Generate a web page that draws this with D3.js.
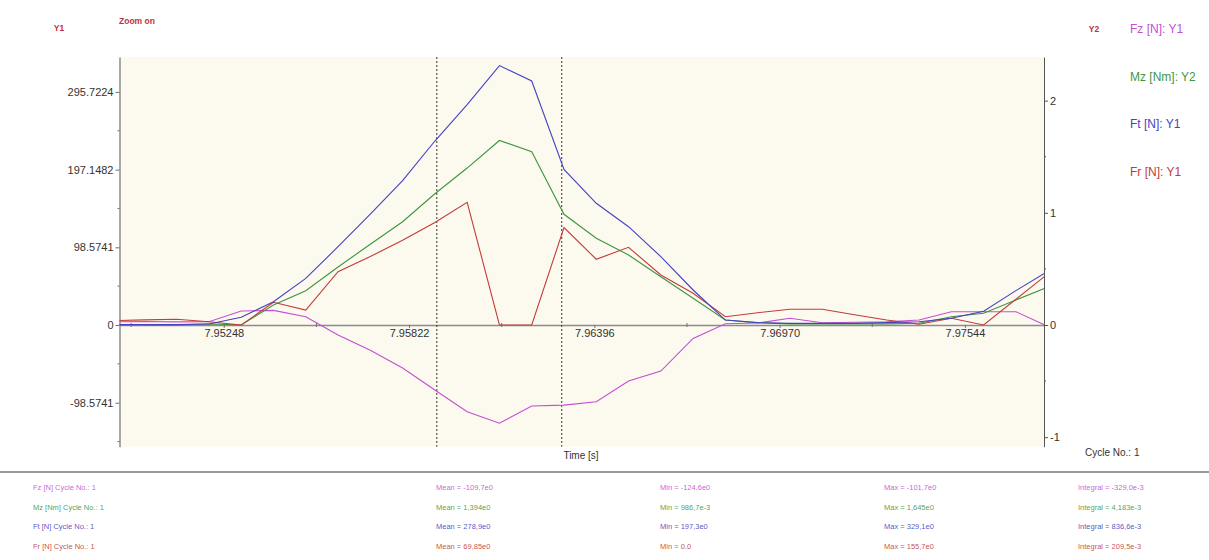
<!DOCTYPE html>
<html>
<head>
<meta charset="utf-8">
<script src="https://cdn.jsdelivr.net/npm/d3@7"></script>
<style>
  html, body { margin: 0; padding: 0; background: #ffffff; }
  svg { display: block; font-family: "Liberation Sans", Arial, sans-serif; }
</style>
</head>
<body>
<svg id="chart" width="1209" height="560"></svg>
<script>
// Sample times [s] (1 kHz acquisition)
const time = [7.94902, 7.95002, 7.95102, 7.95202, 7.95302, 7.95402, 7.95502, 7.95602, 7.95702, 7.95802,
              7.95902, 7.96002, 7.96102, 7.96202, 7.96302, 7.96402, 7.96502, 7.96602, 7.96702, 7.96802,
              7.96902, 7.97002, 7.97102, 7.97202, 7.97302, 7.97402, 7.97502, 7.97602, 7.97702, 7.97802];

// Channels on Y1 [N]
const fz = [4.0, 4.5, 4.0, 4.2, 17.8, 18.5, 10.5, -12.7, -32.0, -54.6,
            -82.5, -110.0, -124.6, -102.8, -101.7, -97.3, -71.0, -58.4, -17.0, 1.5,
            2.5, 8.5, 2.9, 3.5, 4.2, 6.3, 16.9, 16.9, 16.9, -2.0];
const ft = [0.5, 0.5, 0.5, 1.3, 9.8, 29.6, 59.2, 99.3, 140.8, 183.3,
            233.4, 279.6, 329.1, 309.6, 197.3, 154.4, 124.7, 86.7, 44.4, 6.3,
            3.0, 2.0, 2.0, 2.0, 3.0, 4.2, 8.5, 17.5, 43.6, 68.5];
const fr = [5.5, 6.5, 7.2, 4.2, 0.0, 28.8, 19.0, 67.6, 86.9, 107.5,
            130.0, 155.7, 0.0, 0.0, 123.7, 83.4, 98.6, 63.4, 40.2, 10.5,
            15.6, 19.9, 19.9, 13.0, 6.3, 1.0, 8.5, 0.0, 32.6, 65.3];
// Channel on Y2 [Nm]
const mz = [0.0, 0.0, 0.0, 0.01, 0.0, 0.178, 0.306, 0.517, 0.72, 0.92,
            1.17, 1.399, 1.645, 1.545, 0.987, 0.773, 0.624, 0.430, 0.238, 0.045,
            0.02, 0.01, 0.01, 0.01, 0.01, 0.015, 0.074, 0.104, 0.223, 0.34];

// Axis ticks
const xTicks = [7.95248, 7.95822, 7.96396, 7.96970, 7.97544];
const xTickLabels = ["7.95248", "7.95822", "7.96396", "7.96970", "7.97544"];
const xMinorTicks = [7.94961, 7.95535, 7.96109, 7.96683, 7.97257];
const y1Ticks = [-98.5741, 0, 98.5741, 197.1482, 295.7224];
const y1TickLabels = ["-98.5741", "0", "98.5741", "197.1482", "295.7224"];
const y1MinorTicks = [-147.861, -49.287, 49.287, 147.861, 246.435];
const y2Ticks = [-1, 0, 1, 2];
const y2TickLabels = ["-1", "0", "1", "2"];
const y2MinorTicks = [-0.5, 0.5, 1.5];

// Cursor positions [s]
const cursors = [7.95908, 7.96295];

// Legend and statistics
const channels = ["Fz [N]: Y1", "Mz [Nm]: Y2", "Ft [N]: Y1", "Fr [N]: Y1"];
const statNames = ["Fz [N] Cycle No.: 1", "Mz [Nm] Cycle No.: 1", "Ft [N] Cycle No.: 1", "Fr [N] Cycle No.: 1"];
const statMean = ["Mean = -109,7e0", "Mean = 1,394e0", "Mean = 278,9e0", "Mean = 69,85e0"];
const statMin = ["Min = -124,6e0", "Min = 986,7e-3", "Min = 197,3e0", "Min = 0.0"];
const statMax = ["Max = -101,7e0", "Max = 1,645e0", "Max = 329,1e0", "Max = 155,7e0"];
const statIntegral = ["Integral = -329,0e-3", "Integral = 4,183e-3", "Integral = 836,6e-3", "Integral = 209,5e-3"];

const colors = ["#c44fd2", "#3f963f", "#4343c0", "#c23c38"];

const svg = d3.select("#chart");
const L = 119.5, R = 1044, T = 57, B = 446.7;

const x = d3.scaleLinear().domain([7.94925, 7.97789]).range([L, R]);
const y1 = d3.scaleLinear().domain([-154.4, 340]).range([B, T]);
const y2 = d3.scaleLinear().domain([-1.085, 2.389]).range([B, T]);

// Plot background
svg.append("rect").attr("x", L).attr("y", T).attr("width", R - L).attr("height", B - T)
  .attr("fill", "#fcf9ef");

svg.append("defs").append("clipPath").attr("id", "plotClip")
  .append("rect").attr("x", L).attr("y", T).attr("width", R - L).attr("height", B - T);

// X axis along the zero line of Y1
const xAxisG = svg.append("g").attr("transform", `translate(0,${y1(0)})`)
  .call(d3.axisBottom(x).tickValues(xTicks).tickFormat((d, i) => xTickLabels[i]).tickSize(3).tickPadding(1).tickSizeOuter(0));
xAxisG.append("g").selectAll("line").data(xMinorTicks).join("line")
  .attr("x1", d => x(d)).attr("x2", d => x(d)).attr("y1", -2).attr("y2", 2);
xAxisG.select(".domain").attr("stroke", "#8c8c8c").attr("stroke-width", 1.5);
xAxisG.selectAll("line").attr("stroke", "#707070");
xAxisG.selectAll("text").attr("font-size", 11).attr("fill", "#333");

// Left axis (Y1)
const y1G = svg.append("g").attr("transform", `translate(${L},0)`)
  .call(d3.axisLeft(y1).tickValues(y1Ticks).tickFormat((d, i) => y1TickLabels[i]).tickSize(4).tickPadding(2).tickSizeOuter(0));
y1G.append("g").selectAll("line").data(y1MinorTicks).join("line")
  .attr("x1", -2).attr("x2", 0).attr("y1", d => y1(d)).attr("y2", d => y1(d));
y1G.select(".domain").attr("stroke", "#8c8c8c").attr("stroke-width", 1.5);
y1G.selectAll("line").attr("stroke", "#707070");
y1G.selectAll("text").attr("font-size", 11).attr("fill", "#333");

// Right axis (Y2)
const y2G = svg.append("g").attr("transform", `translate(${R},0)`)
  .call(d3.axisRight(y2).tickValues(y2Ticks).tickFormat((d, i) => y2TickLabels[i]).tickSize(4).tickPadding(2).tickSizeOuter(0));
y2G.append("g").selectAll("line").data(y2MinorTicks).join("line")
  .attr("x1", 0).attr("x2", 2).attr("y1", d => y2(d)).attr("y2", d => y2(d));
y2G.select(".domain").attr("stroke", "#555").attr("stroke-width", 1);
y2G.selectAll("line").attr("stroke", "#555");
y2G.selectAll("text").attr("font-size", 11).attr("fill", "#333");

// Measurement cursors
svg.append("g").selectAll("line").data(cursors).join("line")
  .attr("x1", d => x(d)).attr("x2", d => x(d)).attr("y1", T).attr("y2", B)
  .attr("stroke", "#333").attr("stroke-width", 1).attr("stroke-dasharray", "2,2");

// Channel traces
const plot = svg.append("g").attr("clip-path", "url(#plotClip)");
const lineY1 = vals => d3.line().x((d, i) => x(time[i])).y(d => y1(d))(vals);
const lineY2 = vals => d3.line().x((d, i) => x(time[i])).y(d => y2(d))(vals);
const traces = [
  { path: lineY1(fz), color: colors[0] },
  { path: lineY2(mz), color: colors[1] },
  { path: lineY1(fr), color: colors[3] },
  { path: lineY1(ft), color: colors[2] }
];
plot.selectAll("path").data(traces).join("path")
  .attr("d", d => d.path).attr("fill", "none").attr("stroke", d => d.color).attr("stroke-width", 1.1);

// Header labels
svg.append("text").attr("x", 59).attr("y", 31).attr("text-anchor", "middle")
  .attr("font-size", 8.5).attr("font-weight", "bold").attr("fill", "#c0303a").text("Y1");
svg.append("text").attr("x", 119).attr("y", 24)
  .attr("font-size", 8.5).attr("font-weight", "bold").attr("fill", "#c0303a").text("Zoom on");
svg.append("text").attr("x", 1094).attr("y", 32).attr("text-anchor", "middle")
  .attr("font-size", 8.5).attr("font-weight", "bold").attr("fill", "#c0303a").text("Y2");

// Legend
svg.append("g").selectAll("text").data(channels).join("text")
  .attr("x", 1130).attr("y", (d, i) => 33 + i * 47.7)
  .attr("font-size", 12).attr("fill", (d, i) => colors[i]).text(d => d);

// Axis titles
svg.append("text").attr("x", 581).attr("y", 459).attr("text-anchor", "middle")
  .attr("font-size", 10).attr("fill", "#333").text("Time [s]");
svg.append("text").attr("x", 1085).attr("y", 456)
  .attr("font-size", 10).attr("fill", "#333").text("Cycle No.: 1");

// Statistics table
svg.append("line").attr("x1", 0).attr("x2", 1209).attr("y1", 472).attr("y2", 472)
  .attr("stroke", "#777").attr("stroke-width", 1.5);
const cols = [
  { xs: 33, texts: statNames },
  { xs: 436, texts: statMean },
  { xs: 660, texts: statMin },
  { xs: 884, texts: statMax },
  { xs: 1078, texts: statIntegral }
];
const statG = svg.append("g");
cols.forEach(c => {
  statG.append("g").selectAll("text").data(c.texts).join("text")
    .attr("x", c.xs).attr("y", (d, i) => 490 + i * 19.7)
    .attr("font-size", 7.5).attr("fill", (d, i) => colors[i]).attr("fill-opacity", 0.9).text(d => d);
});
</script>
</body>
</html>
